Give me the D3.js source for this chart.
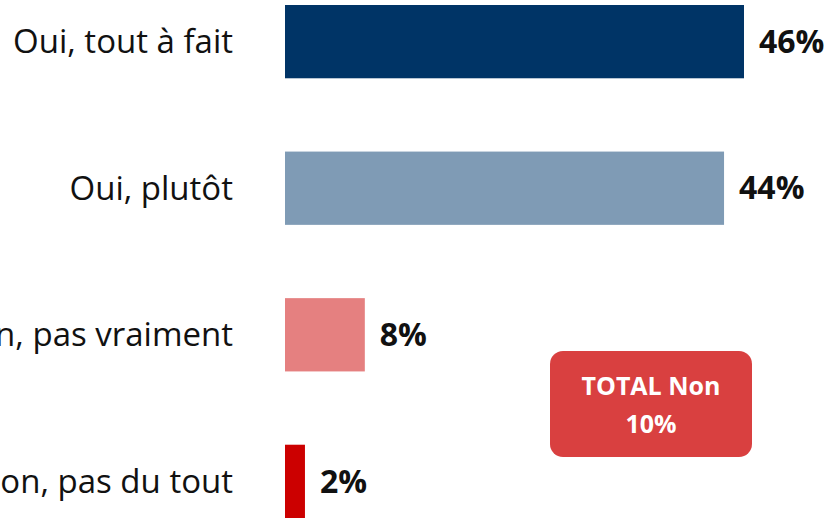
<!DOCTYPE html>
<html>
<head>
<meta charset="utf-8">
<script src="https://cdn.jsdelivr.net/npm/d3@7"></script>
<style>
  html, body { margin: 0; padding: 0; background: #ffffff; }
  svg { display: block; }
</style>
</head>
<body>
<svg id="chart" width="829" height="518"></svg>
<script>
const categories = ["Oui, tout à fait", "Oui, plutôt", "Non, pas vraiment", "Non, pas du tout"];
const values = [46, 44, 8, 2];
const colors = ["#003466", "#7F9BB5", "#E58080", "#CC0000"];
const totalLabel = ["TOTAL Non", "10%"];

const svg = d3.select("#chart");
const font = "'Open Sans', sans-serif";

const x = d3.scaleLinear().domain([0, 46]).range([285, 744]);
const y = d3.scaleBand().domain(categories).range([5, 518]).paddingInner(0.5).paddingOuter(0);

const rows = svg.selectAll("g.row")
  .data(categories.map((c, i) => ({ cat: c, v: values[i], col: colors[i] })))
  .join("g").attr("class", "row");

rows.append("rect")
  .attr("x", x(0))
  .attr("y", d => y(d.cat))
  .attr("width", d => x(d.v) - x(0))
  .attr("height", y.bandwidth())
  .attr("fill", d => d.col);

rows.append("text")
  .attr("x", 233)
  .attr("y", d => y(d.cat) + y.bandwidth() / 2)
  .attr("dy", "0.35em")
  .attr("text-anchor", "end")
  .style("font-family", font)
  .style("font-size", "33px")
  .attr("fill", "#111")
  .text(d => d.cat);

rows.append("text")
  .attr("x", d => x(d.v) + 15)
  .attr("y", d => y(d.cat) + y.bandwidth() / 2)
  .attr("dy", "0.35em")
  .style("font-family", font)
  .style("font-size", "32px")
  .style("font-weight", "bold")
  .attr("fill", "#111")
  .text(d => d.v + "%");

// Callout box with the combined "Non" share
const box = svg.append("g");
box.append("rect")
  .attr("x", 550).attr("y", 351)
  .attr("width", 202).attr("height", 106)
  .attr("rx", 13).attr("ry", 13)
  .attr("fill", "#D94040");
box.selectAll("text")
  .data(totalLabel)
  .join("text")
  .attr("x", 651)
  .attr("y", (d, i) => 395 + i * 38)
  .attr("text-anchor", "middle")
  .style("font-family", font)
  .style("font-size", "25px")
  .style("font-weight", "bold")
  .attr("fill", "#ffffff")
  .text(d => d);
</script>
</body>
</html>
